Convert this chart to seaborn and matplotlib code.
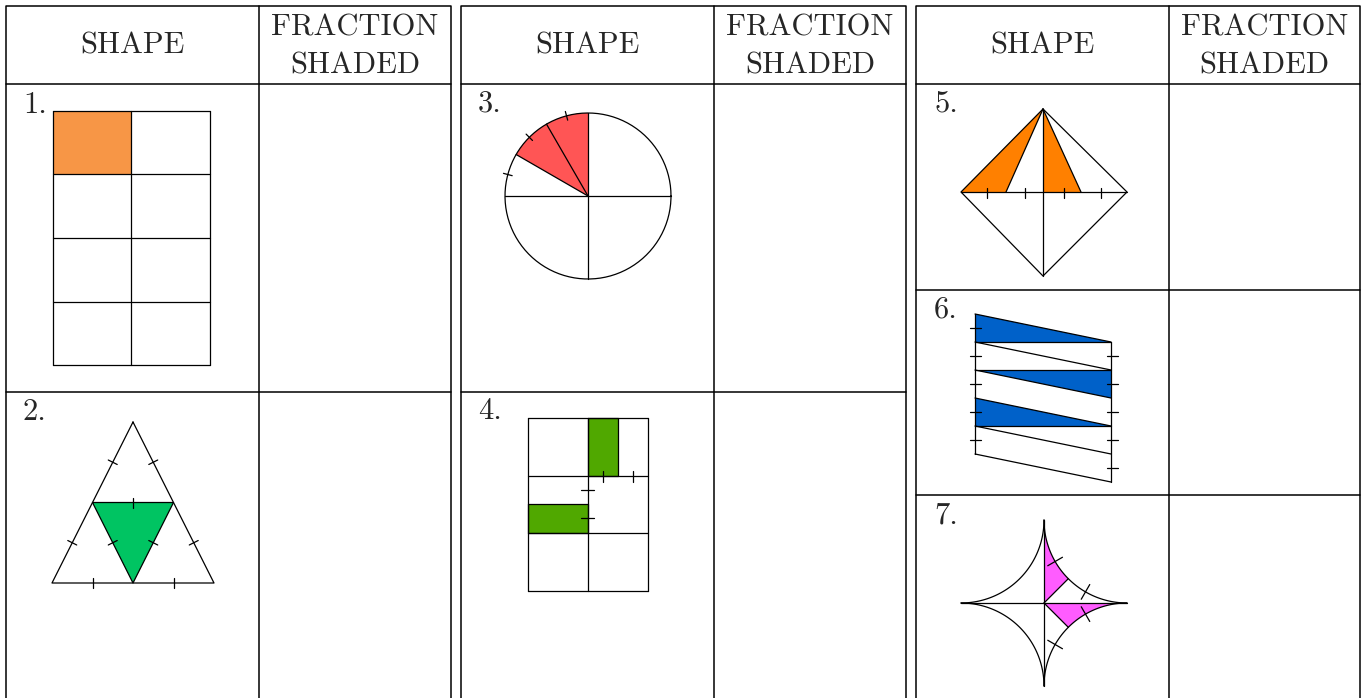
import numpy as np
import pandas as pd
import seaborn as sns
import matplotlib.pyplot as plt

sns.set_theme(style="white")
plt.rcParams['font.family'] = ['cmr10', 'DejaVu Serif']

# table frame, in picture pixels
table_left = [6, 461, 916]
table_mid = [259, 714, 1169]
table_right = [451, 906, 1360]
table_top = 6
table_bottom = 698
header_bottom = 84
row_lines = [[392], [392], [290, 495]]
header_shape = "SHAPE"
header_frac = ["FRACTION", "SHADED"]
labels = ["1.", "2.", "3.", "4.", "5.", "6.", "7."]
label_x = [23, 23, 478, 478, 934, 934, 934]
label_base = [113, 420, 112, 419, 112, 318, 523]

# 1. rectangle grid
grid1_x = [53, 131, 210]
grid1_y = [111, 174, 238, 302, 365]
color1 = "#f79646"

# 2. triangle
tri2 = [(133, 422), (52, 583), (214, 583)]
color2 = "#00c462"

# 3. circle
circ3_c = (588, 196)
circ3_r = 83
circ3_shaded = [90, 150]
circ3_radii = [120, 150]
circ3_ticks = [105, 135, 165]
color3 = "#ff5555"

# 4. grid with strips
grid4_x = [528, 588, 648]
grid4_y = [418, 476, 533, 591]
rects4 = [(588, 418, 618, 476), (528, 504, 588, 533)]
ticks4_v = [(603, 476), (633, 476)]
ticks4_h = [(588, 490), (588, 518)]
color4 = "#50a800"

# 5. kite
kite5 = [(1043, 109), (961, 192), (1043, 276), (1127, 192)]
kite5_cuts = [961, 1006, 1043, 1081, 1127]
kite5_ticks = [987, 1025, 1064, 1101]
color5 = "#ff8000"

# 6. slanted strips
strip6_x = [975, 1111]
strip6_left = [314, 342, 370, 398, 426, 454]
strip6_right = [342, 370, 398, 426, 454, 482]
strip6_flat = [342, 370, 426]
color6 = "#0061c9"

# 7. star
star7_c = (1044, 603)
star7_r = 83
star7_ticks = [30, 60]
color7 = "#ff5cff"

fig = plt.figure(figsize=(13.66, 6.98), dpi=100)
ax = fig.add_axes([0, 0, 1, 1])

segs = []


def seg(pts):
    segs.append(np.asarray(pts, dtype=float))


def tick(x, y, ang, half=5):
    dx, dy = np.cos(ang) * half, np.sin(ang) * half
    seg([(x - dx, y - dy), (x + dx, y + dy)])


def perp_tick(p, q, half=5):
    (x1, y1), (x2, y2) = p, q
    ang = np.arctan2(y2 - y1, x2 - x1) + np.pi / 2
    tick((x1 + x2) / 2, (y1 + y2) / 2, ang, half)


# 1
ax.fill([grid1_x[0], grid1_x[1], grid1_x[1], grid1_x[0]],
        [grid1_y[0], grid1_y[0], grid1_y[1], grid1_y[1]], color=color1, lw=0)
for x in grid1_x:
    seg([(x, grid1_y[0]), (x, grid1_y[-1])])
for y in grid1_y:
    seg([(grid1_x[0], y), (grid1_x[-1], y)])

# 2
a, b, c = [np.array(p, float) for p in tri2]
mab, mbc, mac = (a + b) / 2, (b + c) / 2, (a + c) / 2
ax.fill([mab[0], mac[0], mbc[0]], [mab[1], mac[1], mbc[1]], color=color2, lw=0)
seg([a, b, c, a])
seg([mab, mac, mbc, mab])
for p, q in [(a, mab), (mab, b), (a, mac), (mac, c), (b, mbc), (mbc, c),
             (mab, mac), (mab, mbc), (mac, mbc)]:
    perp_tick(p, q)

# 3
cx, cy = circ3_c
t = np.radians(np.linspace(circ3_shaded[0], circ3_shaded[1], 40))
ax.fill(np.r_[cx, cx + circ3_r * np.cos(t)], np.r_[cy, cy - circ3_r * np.sin(t)],
        color=color3, lw=0)
t = np.radians(np.linspace(0, 360, 200))
seg(np.c_[cx + circ3_r * np.cos(t), cy - circ3_r * np.sin(t)])
seg([(cx - circ3_r, cy), (cx + circ3_r, cy)])
seg([(cx, cy - circ3_r), (cx, cy + circ3_r)])
for deg in circ3_radii:
    r = np.radians(deg)
    seg([(cx, cy), (cx + circ3_r * np.cos(r), cy - circ3_r * np.sin(r))])
for deg in circ3_ticks:
    r = np.radians(deg)
    tick(cx + circ3_r * np.cos(r), cy - circ3_r * np.sin(r), -r, 4.5)

# 4
for x0, y0, x1, y1 in rects4:
    ax.fill([x0, x1, x1, x0], [y0, y0, y1, y1], color=color4, lw=0)
    seg([(x0, y0), (x1, y0), (x1, y1), (x0, y1), (x0, y0)])
for x in grid4_x:
    seg([(x, grid4_y[0]), (x, grid4_y[-1])])
for y in grid4_y:
    seg([(grid4_x[0], y), (grid4_x[-1], y)])
for x, y in ticks4_v:
    tick(x, y, np.pi / 2, 5.5)
for x, y in ticks4_h:
    tick(x - 1, y, 0, 6.5)

# 5
top, left, bot, right = kite5
yc = left[1]
ax.fill([top[0], kite5_cuts[0], kite5_cuts[1]], [top[1], yc, yc], color=color5, lw=0)
ax.fill([top[0], kite5_cuts[2], kite5_cuts[3]], [top[1], yc, yc], color=color5, lw=0)
seg(kite5 + [kite5[0]])
seg([left, right])
seg([top, bot])
seg([top, (kite5_cuts[1], yc)])
seg([top, (kite5_cuts[3], yc)])
for x in kite5_ticks:
    seg([(x, yc - 4), (x, yc + 6)])

# 6
xl, xr = strip6_x
for i in [0, 2, 3]:
    if i == 2:
        ax.fill([xl, xr, xr], [strip6_flat[1], strip6_flat[1], strip6_right[2]],
                color=color6, lw=0)
    else:
        ax.fill([xl, xr, xl], [strip6_left[i], strip6_right[i], strip6_left[i + 1]],
                color=color6, lw=0)
for yl, yr in zip(strip6_left, strip6_right):
    seg([(xl, yl), (xr, yr)])
for y in strip6_flat:
    seg([(xl, y), (xr, y)])
seg([(xl, strip6_left[0]), (xl, strip6_left[-1])])
seg([(xr, strip6_right[0]), (xr, strip6_right[-1])])
for i in range(5):
    tick(xl, (strip6_left[i] + strip6_left[i + 1]) / 2, 0, 5.5)
    tick(xr + 1, (strip6_right[i] + strip6_right[i + 1]) / 2, 0, 5.5)

# 7
sx, sy = star7_c
R = star7_r


def arc(kx, ky, t0, t1, n=60):
    # quarter circle around outer corner (kx, ky)
    tt = np.radians(np.linspace(t0, t1, n))
    return np.c_[sx + kx * R - kx * R * np.cos(tt), sy + ky * R - ky * R * np.sin(tt)]


tr_pink = arc(1, -1, 0, 45)
ax.fill(np.r_[sx, tr_pink[:, 0]], np.r_[sy, tr_pink[:, 1]], color=color7, lw=0)
br_pink = arc(1, 1, 45, 90)
ax.fill(np.r_[sx, br_pink[:, 0]], np.r_[sy, br_pink[:, 1]], color=color7, lw=0)
for kx in (-1, 1):
    for ky in (-1, 1):
        seg(arc(kx, ky, 0, 90))
seg([(sx - R, sy), (sx + R, sy)])
seg([(sx, sy - R), (sx, sy + R)])
seg([(sx, sy), tuple(arc(1, -1, 45, 45, 1)[0])])
seg([(sx, sy), tuple(arc(1, 1, 45, 45, 1)[0])])
for ky in (-1, 1):
    for deg in star7_ticks:
        p = arc(1, ky, deg, deg, 1)[0]
        ang = np.arctan2(p[1] - (sy + ky * R), p[0] - (sx + R))
        tick(p[0], p[1], ang, 8.5)

# shape strokes through seaborn
df = pd.concat([pd.DataFrame({"x": s[:, 0], "y": s[:, 1], "seg": i})
                for i, s in enumerate(segs)], ignore_index=True)
sns.lineplot(data=df, x="x", y="y", units="seg", estimator=None, sort=False,
             color="black", lw=0.9, ax=ax, legend=False)

# table frame
frame = []
for k in range(3):
    L, M, Rt = table_left[k], table_mid[k], table_right[k]
    frame.append([(L, table_bottom), (L, table_top), (Rt, table_top), (Rt, table_bottom)])
    frame.append([(M, table_top), (M, table_bottom)])
    frame.append([(L, header_bottom), (Rt, header_bottom)])
    for y in row_lines[k]:
        frame.append([(L, y), (Rt, y)])
fdf = pd.concat([pd.DataFrame({"x": [p[0] for p in f], "y": [p[1] for p in f], "seg": i})
                 for i, f in enumerate(frame)], ignore_index=True)
sns.lineplot(data=fdf, x="x", y="y", units="seg", estimator=None, sort=False,
             color="black", lw=1.1, ax=ax, legend=False)

for k in range(3):
    ax.text((table_left[k] + table_mid[k]) / 2, 53, header_shape, ha="center",
            va="baseline", fontsize=22)
    ax.text((table_mid[k] + table_right[k]) / 2, 35, header_frac[0], ha="center",
            va="baseline", fontsize=22)
    ax.text((table_mid[k] + table_right[k]) / 2, 73, header_frac[1], ha="center",
            va="baseline", fontsize=22)
for lab, x, y in zip(labels, label_x, label_base):
    ax.text(x, y, lab, ha="left", va="baseline", fontsize=22)

ax.set_xlim(0, 1366)
ax.set_ylim(698, 0)
ax.axis("off")
fig.savefig("out.png", dpi=100)
